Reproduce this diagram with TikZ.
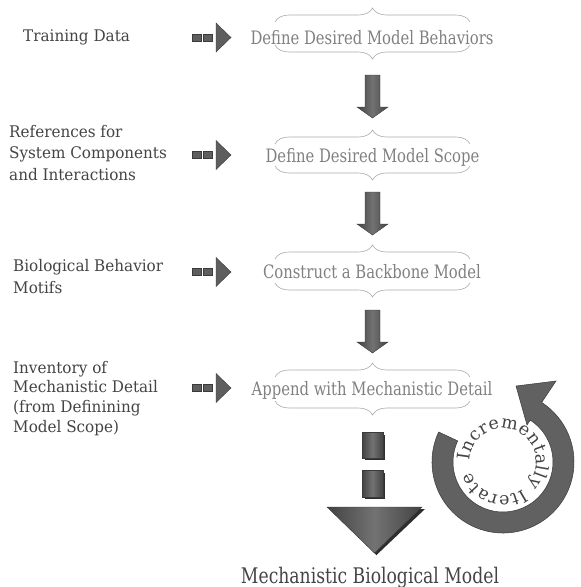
\documentclass[tikz,border=0pt]{standalone}
\usepackage{fontspec}
\setmainfont{DejaVu Serif}
\newfontfamily\condf[FakeStretch=0.8]{DejaVu Serif}
\newfontfamily\labf[FakeStretch=0.95]{DejaVu Serif}
\usetikzlibrary{calc,decorations.pathreplacing,decorations.text}
\definecolor{labgray}{HTML}{444444}
\definecolor{stepgray}{HTML}{808080}
\definecolor{bracegray}{HTML}{ABABAB}
\definecolor{arrowfill}{HTML}{5E5E5E}
\definecolor{arrowedge}{HTML}{3A3A3A}
\begin{document}
\begin{tikzpicture}[x=1pt,y=-1pt,
  leftlab/.style={anchor=north west, inner sep=0pt, text=labgray, align=left},
  steplab/.style={anchor=base, inner sep=0pt, text=stepgray, font=\condf\fontsize{18.5}{20}\selectfont},
  bracestyle/.style={draw=bracegray, line width=0.6pt, decorate, decoration={brace, amplitude=14pt}},
  blockarrow/.style={draw=arrowedge, line width=0.4pt, left color=black!74, right color=black!74, middle color=black!55},
  darkfill/.style={fill=arrowfill, draw=arrowedge, line width=0.4pt},
  shadowfill/.style={fill=black!82},
]
\useasboundingbox (0,0) rectangle (581,587);

% left labels
\node[leftlab, font=\labf\fontsize{16}{21}\selectfont] (l1) at (23,29.8) {Training Data};
\node[leftlab, font=\labf\fontsize{16}{21.5}\selectfont] (l2) at (9,124.8) {References for\\System Components\\and Interactions};
\node[leftlab, font=\labf\fontsize{16}{22}\selectfont] (l3) at (13,258.8) {Biological Behavior\\Motifs};
\node[leftlab, font=\labf\fontsize{16}{19.7}\selectfont] (l4) at (13,360.8) {Inventory of\\Mechanistic Detail\\(from Definining\\Model Scope)};

% small input arrows
\foreach \yy in {37.5,155,272,388}{
  \fill[darkfill] (192,\yy-3.5) rectangle (201.5,\yy+3.5);
  \fill[darkfill] (203,\yy-3.5) rectangle (212.5,\yy+3.5);
  \fill[darkfill] (216,\yy-14.5) -- (231,\yy) -- (216,\yy+14.5) -- cycle;
}

% step labels
\node[steplab] (s1) at (372,44) {Define Desired Model Behaviors};
\node[steplab] (s2) at (372.5,162) {Define Desired Model Scope};
\node[steplab] (s3) at (372,278) {Construct a Backbone Model};
\node[steplab] (s4) at (372,395) {Append with Mechanistic Detail};

% braces
\foreach \tp/\bt in {22/45,144/166,259/283,377/401}{
  \draw[bracestyle] (275,\tp) -- (470,\tp);
  \draw[bracestyle] (470,\bt) -- (275,\bt);
}

% down arrows
\foreach \t/\b in {75/118,192/235,310/353}{
  \draw[blockarrow] (365,\t) -- (380,\t) -- (380,\b-11) -- (388,\b-11) -- (372.5,\b) -- (357,\b-11) -- (365,\b-11) -- cycle;
}

% final dashed arrow
\fill[shadowfill] (364.5,434.5) rectangle (385,460);
\draw[blockarrow] (362,432) rectangle (383,458);
\fill[shadowfill] (364.5,472.5) rectangle (385,499);
\draw[blockarrow] (362,470) rectangle (383,497);
\fill[shadowfill] (330,509) -- (425,509) -- (376.5,555) -- cycle;
\draw[blockarrow] (327,507) -- (422,507) -- (374.5,553) -- cycle;

\node[anchor=base, inner sep=0pt, text=labgray, font=\condf\fontsize{21.5}{22}\selectfont] (final) at (370,583) {Mechanistic Biological Model};

% circular arrow
\coordinate (cc) at (503,462);
\draw[fill=black!62, draw=arrowedge, line width=0.5pt]
  ($(cc)+(-155:71)$) arc[start angle=-155, end angle=-417, radius=71]
  -- (556,381) -- (516,386) -- (527,425)
  -- ($(cc)+(-417:50)$) arc[start angle=-417, end angle=-155, radius=50] -- cycle;

\path[decorate, decoration={text along path, text align=fit to path,
   text={|\fontsize{17.5}{18}\selectfont\color{labgray}|Incrementally Iterate}}]
  ($(cc)+(-178:33.5)$) arc[start angle=-178, end angle=162, radius=33.5];
\end{tikzpicture}
\end{document}
